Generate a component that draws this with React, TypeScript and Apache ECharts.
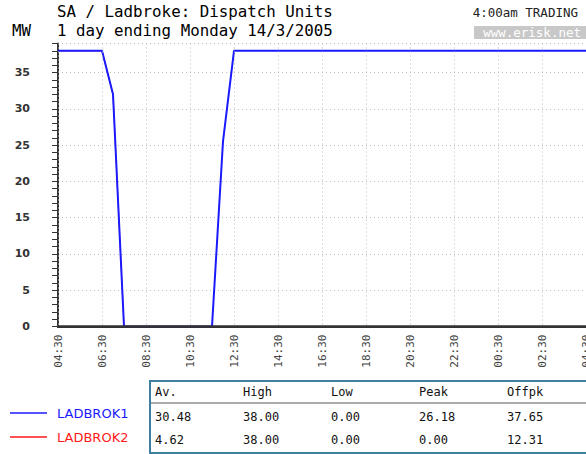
import React, { useEffect, useRef } from "react";
import * as echarts from "echarts";

const times = [
  "04:30", "05:00", "05:30", "06:00", "06:30", "07:00", "07:30", "08:00", "08:30", "09:00",
  "09:30", "10:00", "10:30", "11:00", "11:30", "12:00", "12:30", "13:00", "13:30", "14:00",
  "14:30", "15:00", "15:30", "16:00", "16:30", "17:00", "17:30", "18:00", "18:30", "19:00",
  "19:30", "20:00", "20:30", "21:00", "21:30", "22:00", "22:30", "23:00", "23:30", "00:00",
  "00:30", "01:00", "01:30", "02:00", "02:30", "03:00", "03:30", "04:00", "04:30",
];

const ladbrok1 = [
  38, 38, 38, 38, 38, 32, 0, 0, 0, 0,
  0, 0, 0, 0, 0, 25.5, 38, 38, 38, 38,
  38, 38, 38, 38, 38, 38, 38, 38, 38, 38,
  38, 38, 38, 38, 38, 38, 38, 38, 38, 38,
  38, 38, 38, 38, 38, 38, 38, 38, 38,
];

const ladbrok2 = [
  38, 38, 38, 38, 38, 32, 0, 0, 0, 0,
  0, 0, 0, 0, 0, 0, 0, 0, 0, 0,
  0, 0, 0, 0, 0, 0, 0, 0, 0, 0,
  0, 0, 0, 0, 0, 0, 0, 0, 0, 0,
  0, 0, 0, 0, 0, 0, 0, 0, 0,
];

const seriesNames = ["LADBROK1", "LADBROK2"];
const seriesColors = ["#1a1aff", "#ff1a1a"];
const statHeaders = ["Av.", "High", "Low", "Peak", "Offpk"];
const stats1 = ["30.48", "38.00", "0.00", "26.18", "37.65"];
const stats2 = ["4.62", "38.00", "0.00", "0.00", "12.31"];

const TITLE = "SA / Ladbroke: Dispatch Units";
const SUBTITLE = "1 day ending Monday 14/3/2005";
const UNIT = "MW";
const TRADING = "4:00am TRADING";
const SITE = "www.erisk.net";

const MONO = '"DejaVu Sans Mono", "Liberation Mono", monospace';
const SANS = '"DejaVu Sans", "Liberation Sans", sans-serif';

export default function App() {
  const ref = useRef<HTMLDivElement>(null);

  useEffect(() => {
    document.body.style.margin = "0";
    if (!ref.current) return;
    const chart = echarts.init(ref.current, null, { renderer: "svg" });

    const colX = [155, 243, 331, 419, 507];
    const tableTexts: any[] = [];
    const rows = [statHeaders, stats1, stats2];
    const rowY = [392, 417, 440];
    rows.forEach((row, ri) => {
      row.forEach((t, ci) => {
        tableTexts.push({
          type: "text",
          x: colX[ci],
          y: rowY[ri],
          style: {
            text: t,
            font: `12px ${MONO}`,
            fill: "#111",
            verticalAlign: "middle",
            align: "left",
          },
        });
      });
    });

    const legendEls: any[] = [];
    seriesNames.forEach((n, i) => {
      const y = [413, 437][i];
      legendEls.push({
        type: "line",
        shape: { x1: 10, y1: y, x2: 47, y2: y },
        style: { stroke: seriesColors[i], lineWidth: 1.5 },
      });
      legendEls.push({
        type: "text",
        x: 57,
        y,
        style: {
          text: n,
          font: `13px ${SANS}`,
          fill: seriesColors[i],
          verticalAlign: "middle",
        },
      });
    });

    chart.setOption({
      animation: false,
      backgroundColor: "#ffffff",
      grid: {
        left: 58,
        top: 43.5,
        width: 528,
        height: 283,
        containLabel: false,
        outerBoundsMode: "none",
      },
      xAxis: [
        {
          type: "category",
          data: times,
          boundaryGap: false,
          position: "bottom",
          z: 5,
          axisLine: { show: true, lineStyle: { color: "#333", width: 2.5 } },
          axisTick: { show: false },
          axisLabel: {
            interval: 3,
            rotate: 90,
            margin: 8,
            fontFamily: MONO,
            fontSize: 11,
            color: "#444",
          },
          splitLine: {
            show: true,
            interval: 3,
            lineStyle: { color: "#bbb", type: [1, 3], width: 1 },
          },
        },
        {
          type: "category",
          data: times,
          boundaryGap: false,
          position: "top",
          axisLine: { show: true, lineStyle: { color: "#333", width: 2 } },
          axisTick: { show: false },
          axisLabel: { show: false },
          splitLine: { show: false },
        },
      ],
      yAxis: [
        {
          type: "value",
          min: 0,
          max: 39,
          interval: 5,
          position: "left",
          axisLine: { show: true, lineStyle: { color: "#333", width: 2 } },
          axisTick: { show: false },
          axisLabel: {
            margin: 28,
            fontFamily: SANS,
            fontWeight: "bold",
            fontSize: 11,
            color: "#333",
            showMaxLabel: false,
          },
          splitLine: {
            show: true,
            lineStyle: { color: "#bbb", type: [1, 3], width: 1 },
          },
        },
        {
          type: "value",
          min: 0,
          max: 39,
          interval: 1,
          position: "left",
          axisLine: { show: false },
          axisTick: { show: true, length: 6, lineStyle: { color: "#333", width: 1 } },
          axisLabel: { show: false },
          splitLine: { show: false },
        },
      ],
      series: [
        {
          name: seriesNames[1],
          type: "line",
          data: ladbrok2,
          showSymbol: false,
          xAxisIndex: 0,
          yAxisIndex: 0,
          lineStyle: { color: seriesColors[1], width: 1 },
          itemStyle: { color: seriesColors[1] },
          z: 2,
        },
        {
          name: seriesNames[0],
          type: "line",
          data: ladbrok1,
          showSymbol: false,
          xAxisIndex: 0,
          yAxisIndex: 0,
          lineStyle: { color: seriesColors[0], width: 2 },
          itemStyle: { color: seriesColors[0] },
          z: 3,
        },
      ],
      graphic: [
        {
          type: "text",
          x: 57,
          y: 11,
          style: { text: TITLE, font: `15.8px ${MONO}`, fill: "#000", verticalAlign: "middle" },
        },
        {
          type: "text",
          x: 57,
          y: 30,
          style: { text: SUBTITLE, font: `15.8px ${MONO}`, fill: "#000", verticalAlign: "middle" },
        },
        {
          type: "text",
          x: 12,
          y: 30,
          style: { text: UNIT, font: `15.8px ${MONO}`, fill: "#000", verticalAlign: "middle" },
        },
        {
          type: "text",
          x: 578,
          y: 12.5,
          style: { text: TRADING, font: `12.5px ${MONO}`, fill: "#222", align: "right", verticalAlign: "middle" },
        },
        {
          type: "rect",
          shape: { x: 474, y: 26, width: 112, height: 13 },
          style: { fill: "#c8c8c8" },
        },
        {
          type: "text",
          x: 581,
          y: 32.5,
          style: { text: SITE, font: `12.5px ${MONO}`, fill: "#ffffff", align: "right", verticalAlign: "middle" },
        },
        {
          type: "rect",
          shape: { x: 150, y: 381, width: 450, height: 72 },
          style: { fill: "#ffffff", stroke: "#3f7f9f", lineWidth: 2 },
        },
        {
          type: "line",
          shape: { x1: 151, y1: 403, x2: 586, y2: 403 },
          style: { stroke: "#aaaaaa", lineWidth: 2 },
        },
        ...tableTexts,
        ...legendEls,
      ],
    });

    return () => chart.dispose();
  }, []);

  return <div ref={ref} style={{ width: 586, height: 454 }} />;
}
